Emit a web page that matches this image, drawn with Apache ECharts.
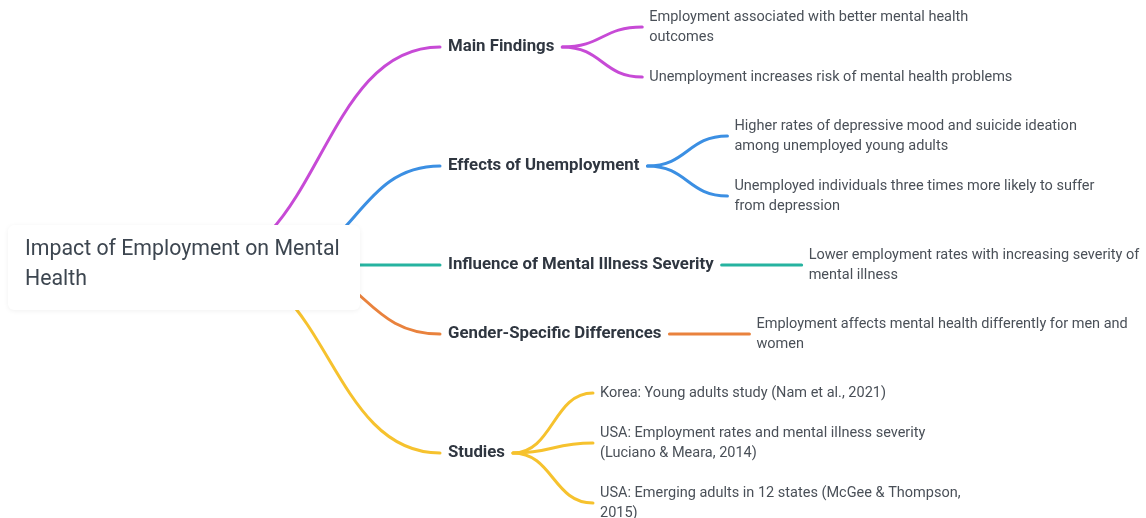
<!DOCTYPE html>
<html><head><meta charset="utf-8">
<script src="https://cdn.jsdelivr.net/npm/echarts@6/dist/echarts.min.js"></script>
<style>html,body{margin:0;padding:0;background:#fff}#c{width:1146px;height:518px}</style>
</head><body><div id="c"></div>
<script>
// ---- content ----
const rootTitle = ['Impact of Employment on Mental', 'Health'];
const branchNames = [
  'Main Findings',
  'Effects of Unemployment',
  'Influence of Mental Illness Severity',
  'Gender-Specific Differences',
  'Studies'
];
const mainFindings = [
  ['Employment associated with better mental health', 'outcomes'],
  ['Unemployment increases risk of mental health problems']
];
const effectsOfUnemployment = [
  ['Higher rates of depressive mood and suicide ideation', 'among unemployed young adults'],
  ['Unemployed individuals three times more likely to suffer', 'from depression']
];
const severityInfluence = [
  ['Lower employment rates with increasing severity of', 'mental illness']
];
const genderDifferences = [
  ['Employment affects mental health differently for men and', 'women']
];
const studies = [
  ['Korea: Young adults study (Nam et al., 2021)'],
  ['USA: Employment rates and mental illness severity', '(Luciano & Meara, 2014)'],
  ['USA: Emerging adults in 12 states (McGee & Thompson,', '2015)']
];
const branchLeaves = [mainFindings, effectsOfUnemployment, severityInfluence, genderDifferences, studies];

// ---- style ----
const branchColors = ['#c74ad6', '#3b8fe3', '#26b3a0', '#e9823d', '#f6c22e'];
const FAMILY = 'Roboto, "Noto Sans", sans-serif';
const LEAF_SIZE = 14.5, BRANCH_SIZE = 16.8, ROOT_SIZE = 21.3;
const LINE_H = 20, GAP_IN = 20, GAP_OUT = 29, TOP = 7;
const BRANCH_X = 448;

const ctx = document.createElement('canvas').getContext('2d');
function textW(str, weight, size) {
  ctx.font = weight + ' ' + size + 'px ' + FAMILY;
  return ctx.measureText(str).width;
}

// ---- layout (computed from tree structure) ----
const layout = [];
let cur = TOP;
branchLeaves.forEach((leaves, bi) => {
  const blockTop = cur;
  const leafPos = leaves.map((lines, li) => {
    const h = lines.length * LINE_H;
    const cy = cur + h / 2;
    cur += h + (li < leaves.length - 1 ? GAP_IN : 0);
    return cy;
  });
  const blockBottom = cur;
  cur += GAP_OUT;
  const textEnd = BRANCH_X + textW(branchNames[bi], 'bold', BRANCH_SIZE);
  layout.push({
    y: (blockTop + blockBottom) / 2,
    textEnd: textEnd,
    leafX: textEnd + 95,
    leafY: leafPos
  });
});
const totalBottom = cur - GAP_OUT;
const rootY = (TOP + totalBottom) / 2;

function hLink(p0, p1) {
  const mx = (p0[0] + p1[0]) / 2;
  return { x1: p0[0], y1: p0[1], cpx1: mx, cpy1: p0[1], cpx2: mx, cpy2: p1[1], x2: p1[0], y2: p1[1] };
}

function renderItem(params, api) {
  const i = params.dataIndex;
  const P = p => api.coord(p);
  if (i === branchNames.length) {
    const tl = P([8, rootY - 40]), br = P([360, rootY + 45]);
    const c = P([25, rootY]);
    return {
      type: 'group', children: [
        { type: 'rect', shape: { x: tl[0], y: tl[1], width: br[0] - tl[0], height: br[1] - tl[1], r: 6 },
          style: { fill: '#ffffff', shadowBlur: 5, shadowColor: 'rgba(0,0,0,0.06)', shadowOffsetY: 1 } },
        { type: 'text', x: c[0], y: c[1],
          style: { text: rootTitle.join('\n'), fill: '#3d4650', fontFamily: FAMILY, fontSize: ROOT_SIZE,
                   lineHeight: 30, align: 'left', verticalAlign: 'middle' } }
      ]
    };
  }
  const L = layout[i];
  const color = branchColors[i];
  const dy = Math.abs(L.y - rootY);
  const src = P([330 - 0.6 * dy, rootY]);
  const dst = P([BRANCH_X - 8, L.y]);
  const children = [];
  children.push({ type: 'bezierCurve', shape: hLink(src, dst),
    style: { stroke: color, lineWidth: 3, fill: null, lineCap: 'round' } });
  const lp = P([BRANCH_X, L.y]);
  children.push({ type: 'text', x: lp[0], y: lp[1],
    style: { text: branchNames[i], fill: '#2f3640', fontFamily: FAMILY, fontSize: BRANCH_SIZE,
             fontWeight: 'bold', align: 'left', verticalAlign: 'middle' } });
  branchLeaves[i].forEach((lines, li) => {
    const a = P([L.textEnd + 8, L.y]);
    const b = P([L.leafX - 7, L.leafY[li]]);
    children.push({ type: 'bezierCurve', shape: hLink(a, b),
      style: { stroke: color, lineWidth: 3, fill: null, lineCap: 'round' } });
    const t = P([L.leafX, L.leafY[li]]);
    children.push({ type: 'text', x: t[0], y: t[1],
      style: { text: lines.join('\n'), fill: '#4a5058', fontFamily: FAMILY, fontSize: LEAF_SIZE,
               lineHeight: LINE_H, align: 'left', verticalAlign: 'middle' } });
  });
  return { type: 'group', children: children };
}

const items = branchNames.map((n, i) => ({ name: n, value: [i, 0] }));
items.push({ name: 'root', value: [branchNames.length, 0] });

const chart = echarts.init(document.getElementById('c'));
chart.setOption({
  animation: false,
  backgroundColor: '#ffffff',
  grid: { left: 0, right: 0, top: 0, bottom: 0 },
  xAxis: { type: 'value', min: 0, max: 1146, show: false },
  yAxis: { type: 'value', min: 0, max: 518, inverse: true, show: false },
  series: [{ type: 'custom', coordinateSystem: 'cartesian2d', data: items, renderItem: renderItem, clip: false }]
});
</script></body></html>
